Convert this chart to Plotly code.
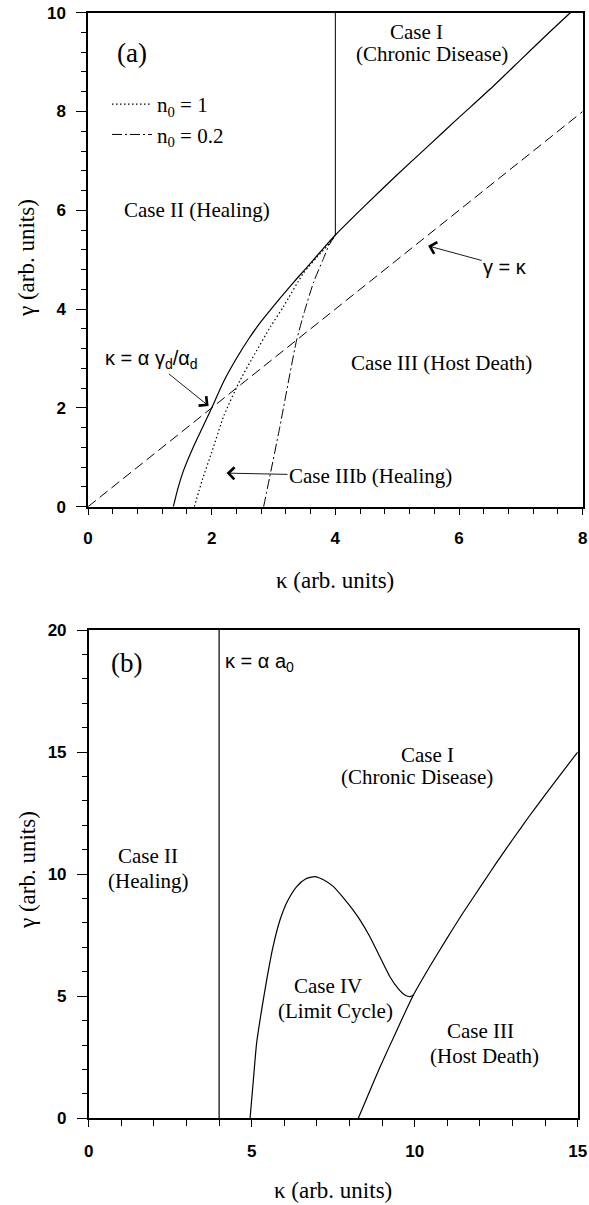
import plotly.graph_objects as go

# ---------------- data: panel (a) ----------------
a_solid_k = [1.38, 1.45, 1.55, 1.7, 1.85, 2.0, 2.2, 2.4, 2.6, 2.8, 3.0, 3.2, 3.4, 3.6, 3.8, 4.0,
             4.5, 5.0, 5.5, 6.0, 6.5, 7.0, 7.5, 7.8]
a_solid_g = [0.0, 0.35, 0.75, 1.2, 1.6, 2.0, 2.55, 3.0, 3.4, 3.75, 4.06, 4.36, 4.65, 4.93, 5.22, 5.5,
             6.12, 6.72, 7.3, 7.88, 8.45, 9.05, 9.65, 10.0]
a_vert_k = [4.0, 4.0]
a_vert_g = [5.5, 10.0]
a_diag_k = [0.0, 8.0]
a_diag_g = [0.0, 8.0]
a_n1_k = [1.72, 1.85, 2.0, 2.2, 2.46, 2.7, 2.95, 3.16, 3.48, 3.7, 3.92, 4.0]
a_n1_g = [0.0, 0.55, 1.1, 1.85, 2.56, 3.1, 3.64, 4.05, 4.72, 5.05, 5.35, 5.5]
a_n02_k = [2.84, 2.94, 3.1, 3.37, 3.5, 3.65, 3.8, 3.9, 4.0]
a_n02_g = [0.0, 0.61, 1.6, 3.35, 3.95, 4.55, 5.0, 5.3, 5.5]

# ---------------- data: panel (b) ----------------
b_vert_k = [4.0, 4.0]
b_vert_g = [0.0, 20.0]
b_lc_k = [4.95, 5.05, 5.15, 5.3, 5.46, 5.65, 5.87, 6.1, 6.38, 6.65, 6.94, 7.2, 7.5, 7.8, 8.1,
          8.32, 8.6, 8.9, 9.24, 9.5, 9.7, 9.86, 9.96]
b_lc_g = [0.0, 1.55, 3.07, 4.4, 5.67, 7.0, 8.13, 8.9, 9.49, 9.8, 9.9, 9.77, 9.5, 9.05, 8.55,
          8.13, 7.5, 6.7, 5.8, 5.3, 5.05, 4.98, 5.05]
b_hd_k = [8.27, 8.6, 8.94, 9.45, 9.96, 10.5, 10.98, 11.5, 12.1, 12.5, 13.02, 13.5, 14.0, 14.5, 15.0]
b_hd_g = [0.0, 1.05, 2.11, 3.6, 5.05, 6.3, 7.35, 8.45, 9.65, 10.45, 11.45, 12.35, 13.25, 14.13, 15.0]

a_xticks = [0, 2, 4, 6, 8]
a_yticks = [0, 2, 4, 6, 8, 10]
b_xticks = [0, 5, 10, 15]
b_yticks = [0, 5, 10, 15, 20]

SERIF = "Liberation Serif"
SANS = "Liberation Sans"
W, H = 589, 1205

fig = go.Figure()
blk = "black"

def line(x, y, xa, ya, dash="solid", width=1.2, name=None, legend=False, smooth=False):
    fig.add_trace(go.Scatter(x=x, y=y, mode="lines", xaxis=xa, yaxis=ya,
                             line=dict(color=blk, width=width, dash=dash,
                                       shape="spline" if smooth else "linear",
                                       smoothing=0.6 if smooth else None),
                             name=name, showlegend=legend, hoverinfo="skip"))

line(a_solid_k, a_solid_g, "x", "y", smooth=True)
line(a_vert_k, a_vert_g, "x", "y", width=1)
line(a_diag_k, a_diag_g, "x", "y", dash="10px,5px", width=1)
line(a_n1_k, a_n1_g, "x", "y", dash="1.5px,2.5px", width=1.2, name="n<sub>0</sub> = 1",
     legend=True, smooth=True)
line(a_n02_k, a_n02_g, "x", "y", dash="10px,3px,2px,3px", width=1, name="n<sub>0</sub> = 0.2",
     legend=True, smooth=True)

line(b_vert_k, b_vert_g, "x2", "y2", width=1.2)
line(b_lc_k, b_lc_g, "x2", "y2", smooth=True)
line(b_hd_k, b_hd_g, "x2", "y2", smooth=True)

tickfont = dict(family=SANS, size=17, color=blk, weight="bold")

def axis(domain, rng, ticks, mdtick, anchor, major_len, minor_len, standoff):
    return dict(domain=domain, range=rng, tickvals=ticks, ticks="outside", ticklen=major_len,
                tickwidth=1.2, tickcolor=blk, showline=True, linecolor=blk, linewidth=1.5,
                mirror=True, showgrid=False, zeroline=False, anchor=anchor,
                tickfont=tickfont, ticklabelstandoff=standoff, automargin=False,
                minor=dict(dtick=mdtick, tick0=0, ticks="outside", ticklen=minor_len,
                           tickwidth=1.2, tickcolor=blk, showgrid=False))

fig.update_layout(
    width=W, height=H, template="none",
    margin=dict(l=0, r=0, t=0, b=0),
    paper_bgcolor="white", plot_bgcolor="white",
    xaxis=axis([88 / W, 582.7 / W], [0, 8], a_xticks, 0.4, "y", 7, 6, 8),
    yaxis=axis([1 - 506.7 / H, 1 - 12.7 / H], [0, 10], a_yticks, 0.4, "x", 10, 5, 7),
    xaxis2=axis([88.7 / W, 577.7 / W], [0, 15], b_xticks, 1, "y2", 7, 6, 10),
    yaxis2=axis([1 - 1118.3 / H, 1 - 630 / H], [0, 20], b_yticks, 1, "x2", 10, 5, 7),
    legend=dict(x=107 / W, y=1 - 84 / H, xanchor="left", yanchor="top",
                bgcolor="rgba(0,0,0,0)", font=dict(family=SERIF, size=21, color=blk),
                tracegroupgap=0, itemwidth=40),
    showlegend=True,
)

ann = []

def txt(x, y, t, xr="x", yr="y", size=21, family=SERIF, xanchor="center"):
    ann.append(dict(x=x, y=y, xref=xr, yref=yr, text=t, showarrow=False, xanchor=xanchor,
                    yanchor="middle", font=dict(family=family, size=size, color=blk)))

def arr(x, y, t, ax, ay, size=21, family=SERIF, xr="x", yr="y"):
    ann.append(dict(x=x, y=y, xref=xr, yref=yr, text=t, showarrow=True, ax=ax, ay=ay,
                    axref="pixel", ayref="pixel", arrowhead=4, arrowsize=2.6, arrowwidth=0.9,
                    arrowcolor=blk, font=dict(family=family, size=size, color=blk)))

# panel (a)
txt(0.71, 9.18, "(a)", size=27)
txt(5.32, 9.61, "Case I")
txt(5.56, 9.16, "(Chronic Disease)")
txt(1.77, 6.0, "Case II (Healing)")
txt(5.72, 2.91, "Case III (Host Death)")
arr(5.50, 5.28, "γ = κ", 77, 21, size=20, family=SANS)
arr(1.95, 2.04, "κ = α γ<sub>d</sub>/α<sub>d</sub>", -57, -46, size=20, family=SANS)
arr(2.24, 0.68, "Case IIIb (Healing)", 144, 3)

# panel (b)
txt(1.17, 18.65, "(b)", xr="x2", yr="y2", size=27)
txt(4.12, 18.66, "κ = α a<sub>0</sub>", xr="x2", yr="y2", size=20, family=SANS, xanchor="left")
txt(1.82, 10.75, "Case II", xr="x2", yr="y2")
txt(1.82, 9.73, "(Healing)", xr="x2", yr="y2")
txt(10.38, 14.86, "Case I", xr="x2", yr="y2")
txt(10.07, 13.96, "(Chronic Disease)", xr="x2", yr="y2")
txt(7.34, 5.43, "Case IV", xr="x2", yr="y2")
txt(7.56, 4.40, "(Limit Cycle)", xr="x2", yr="y2")
txt(12.03, 3.59, "Case III", xr="x2", yr="y2")
txt(12.13, 2.55, "(Host Death)", xr="x2", yr="y2")

# axis titles
def title(xp, yp, t, angle=0):
    ann.append(dict(x=xp / W, y=1 - yp / H, xref="paper", yref="paper", text=t,
                    showarrow=False, textangle=angle, xanchor="center", yanchor="middle",
                    font=dict(family=SERIF, size=23, color=blk)))

title(335, 580, "κ (arb. units)")
title(26, 258, "γ (arb. units)", -90)
title(333, 1190, "κ (arb. units)")
title(27, 870, "γ (arb. units)", -90)

fig.update_layout(annotations=ann)
fig.write_html("out.html", config={"displayModeBar": False},
               post_script="document.body.style.margin='0';document.body.style.overflow='hidden';")
